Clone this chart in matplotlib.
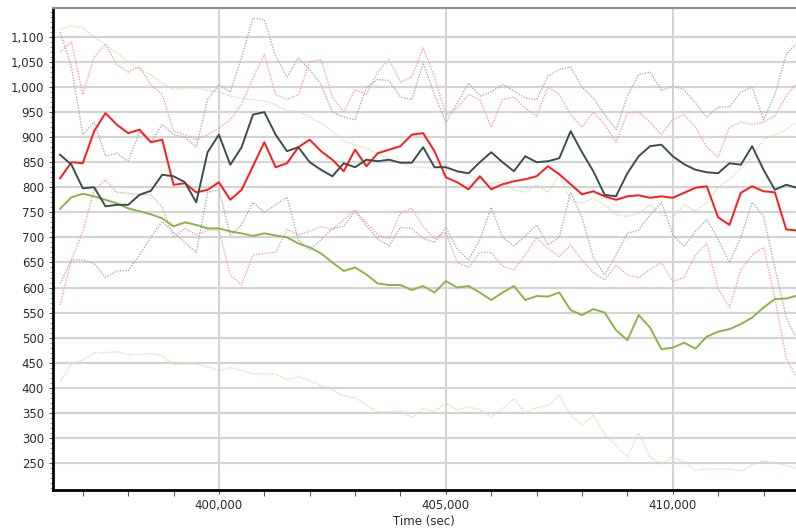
import numpy as np
import matplotlib
matplotlib.use("Agg")
import matplotlib.pyplot as plt
from matplotlib.ticker import MultipleLocator, StrMethodFormatter

# time axis (sec)
time = np.append(np.arange(396500, 412501, 250), 412700)

# main series
red = [818, 850, 848, 912, 948, 925, 908, 915, 890, 895,
       805, 808, 790, 795, 810, 775, 795, 842, 890, 840,
       848, 880, 895, 872, 855, 832, 875, 842, 868, 875,
       882, 905, 908, 872, 820, 810, 796, 822, 796, 806,
       812, 816, 822, 842, 826, 806, 786, 792, 782, 775,
       782, 784, 779, 782, 779, 789, 799, 802, 740, 725,
       789, 802, 792, 790, 716, 714]
dark = [865, 845, 798, 800, 762, 765, 765, 785, 793, 825,
        822, 810, 770, 870, 905, 845, 880, 945, 950, 905,
        872, 880, 850, 835, 822, 848, 840, 855, 852, 855,
        849, 849, 880, 840, 840, 832, 828, 850, 870, 850,
        832, 862, 850, 852, 858, 912, 870, 832, 785, 782,
        828, 862, 882, 885, 862, 846, 835, 830, 828, 848,
        845, 882, 835, 795, 805, 800]
green = [757, 780, 787, 782, 775, 768, 758, 752, 746, 738,
         722, 730, 725, 718, 718, 712, 708, 703, 708, 704,
         700, 688, 680, 668, 650, 633, 640, 626, 608, 605,
         605, 595, 603, 590, 613, 600, 603, 590, 575, 590,
         603, 575, 583, 582, 590, 555, 545, 557, 550, 515,
         495, 545, 520, 477, 480, 490, 478, 502, 512, 517,
         527, 540, 560, 577, 578, 583]

# upper / lower bands (dotted)
red_hi = [1070, 1090, 985, 1060, 1085, 1045, 1030, 1040, 1005, 985,
          912, 905, 895, 905, 918, 935, 965, 1018, 1065, 985,
          975, 985, 1050, 1055, 980, 950, 995, 985, 1030, 1055,
          1010, 1020, 1078, 1020, 945, 958, 985, 975, 920, 975,
          980, 958, 942, 1000, 985, 945, 920, 950, 925, 890,
          948, 950, 930, 905, 935, 945, 920, 880, 860, 920,
          930, 925, 930, 942, 982, 1005]
red_lo = [565, 655, 712, 795, 815, 790, 788, 785, 785, 760,
          700, 718, 705, 714, 714, 625, 605, 665, 668, 670,
          716, 705, 712, 722, 715, 735, 755, 729, 705, 698,
          748, 758, 722, 698, 710, 650, 640, 670, 670, 643,
          635, 665, 700, 678, 662, 685, 655, 630, 615, 645,
          625, 620, 636, 650, 612, 620, 665, 688, 598, 560,
          635, 665, 680, 580, 458, 425]
grey_hi = [1110, 1040, 905, 930, 862, 868, 852, 910, 890, 925,
           905, 900, 880, 975, 1005, 990, 1060, 1138, 1134, 1062,
           1020, 1058, 1035, 1005, 950, 940, 935, 1000, 1015, 1013,
           980, 975, 1048, 985, 930, 968, 1008, 982, 990, 1005,
           992, 978, 975, 1022, 1035, 1040, 1000, 978, 945, 915,
           982, 1025, 1030, 993, 1002, 995, 968, 940, 960, 960,
           990, 1000, 935, 985, 1065, 1085]
grey_lo = [608, 655, 655, 648, 620, 633, 634, 665, 700, 732,
           710, 690, 670, 790, 795, 705, 725, 770, 750, 765,
           780, 695, 675, 695, 718, 722, 752, 723, 697, 683,
           720, 718, 698, 690, 720, 677, 655, 696, 760, 700,
           683, 703, 725, 685, 700, 790, 740, 660, 625, 665,
           708, 715, 745, 770, 705, 682, 712, 736, 696, 650,
           700, 770, 742, 640, 540, 503]
green_hi = [1115, 1122, 1118, 1100, 1085, 1068, 1050, 1035, 1025, 1008,
            995, 998, 998, 994, 990, 982, 978, 975, 972, 965,
            952, 952, 940, 928, 912, 892, 885, 878, 867, 856,
            849, 840, 840, 838, 846, 830, 825, 815, 808, 810,
            795, 790, 805, 790, 825, 775, 768, 778, 765, 745,
            742, 748, 765, 745, 740, 765, 752, 770, 800, 816,
            838, 860, 895, 905, 915, 928]
green_lo = [412, 448, 455, 470, 470, 472, 466, 466, 468, 464,
            446, 447, 448, 442, 434, 440, 435, 428, 428, 427,
            416, 422, 414, 404, 396, 384, 380, 365, 352, 352,
            355, 340, 358, 352, 370, 356, 362, 356, 342, 358,
            378, 350, 360, 365, 385, 345, 326, 345, 306, 285,
            262, 310, 262, 248, 262, 252, 235, 238, 238, 238,
            234, 246, 254, 250, 245, 240]

yticks = list(range(250, 1101, 50))
xticks = [400000, 405000, 410000]

fig = plt.figure(figsize=(7.96, 5.31), dpi=100)
ax = fig.add_axes([0.0666, 0.0772, 0.933, 0.908])

dot = (0, (1, 1))
ax.plot(time, green_hi, color="#cfe0b0", lw=1.0, ls=dot)
ax.plot(time, green_lo, color="#cfe0b0", lw=1.0, ls=dot)
ax.plot(time, grey_hi, color="#a9b0b0", lw=1.0, ls=dot)
ax.plot(time, grey_lo, color="#a9b0b0", lw=1.0, ls=dot)
ax.plot(time, red_hi, color="#f4a2a2", lw=1.0, ls=dot)
ax.plot(time, red_lo, color="#f4a2a2", lw=1.0, ls=dot)

ax.plot(time, green, color="#8cb346", lw=1.4)
ax.plot(time, red, color="#ff1a1a", lw=1.4)
ax.plot(time, dark, color="#3b4e4e", lw=1.4)

ax.set_xlim(396344, 412709)
ax.set_ylim(196, 1158)

ax.set_yticks(yticks)
ax.set_xticks(xticks)
ax.yaxis.set_minor_locator(MultipleLocator(10))
ax.xaxis.set_minor_locator(MultipleLocator(1000))
ax.yaxis.set_major_formatter(StrMethodFormatter("{x:,.0f}"))
ax.xaxis.set_major_formatter(StrMethodFormatter("{x:,.0f}"))

ax.grid(True, which="major", axis="y", color="#d4d4d4", lw=1.6)
ax.grid(True, which="major", axis="x", color="#cccccc", lw=1.2)
ax.set_axisbelow(True)

ax.tick_params(axis="both", which="major", labelsize=8.5, labelcolor="#2a2a3a",
               length=3, width=0.8, color="#555555")
ax.tick_params(axis="y", which="minor", length=2, width=0.6, color="#888888")
ax.tick_params(axis="x", which="minor", length=4, width=0.8, color="#555555")

for s in ["left", "bottom"]:
    ax.spines[s].set_linewidth(2)
    ax.spines[s].set_color("black")
ax.spines["top"].set_color("#909090")
ax.spines["top"].set_linewidth(1.5)
ax.spines["right"].set_visible(False)

ax.set_xlabel("Time (sec)", fontsize=8.5, color="#2a2a3a", labelpad=2)

fig.savefig("out.png", dpi=100)
